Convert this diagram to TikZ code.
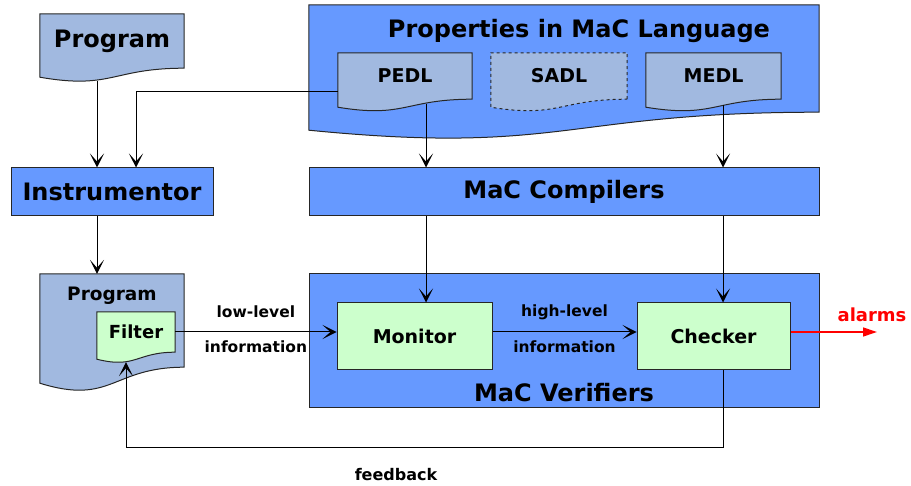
\documentclass[tikz,border=0pt]{standalone}
\usepackage{fontspec}
\setmainfont{DejaVu Sans}
\usepackage{tikz}
\usetikzlibrary{shapes.geometric, arrows.meta, calc, backgrounds}
\definecolor{macblue}{RGB}{102,153,255}
\definecolor{docblue}{RGB}{161,185,224}
\definecolor{mongreen}{RGB}{204,255,204}
\tikzstyle{bigbox} = [rectangle, draw=black!85, line width=1pt, fill=macblue, inner sep=0pt]
\tikzstyle{doc} = [rectangle, inner sep=0pt]
\tikzstyle{docline} = [draw=black!85, line width=1pt, fill=docblue]
\tikzstyle{process} = [rectangle, draw=black!85, line width=1pt, fill=mongreen, inner sep=0pt]
\tikzstyle{arrow} = [line width=1pt, ->, >={Stealth[length=14pt,width=14pt,inset=8pt]}]
\tikzstyle{alarmarrow} = [line width=1.3pt, red, ->, >={Triangle[length=14pt,width=9pt]}]
\tikzstyle{title} = [font=\bfseries\fontsize{24}{28}\selectfont]
\tikzstyle{inner} = [font=\bfseries\fontsize{19}{22}\selectfont]
\tikzstyle{small} = [font=\bfseries\fontsize{15.5}{18}\selectfont]

% documento com borda ondulada: estilo, no, profundidade
\newcommand{\docshape}[3]{%
  \draw[#1] (#2.south east) -- (#2.north east) -- (#2.north west) -- ([yshift=-#3]#2.south west)
    .. controls ($(#2.south)+(0,-2.4*#3)$) and (#2.south) .. (#2.south east) -- cycle;}

\begin{document}
\begin{tikzpicture}[x=1pt, y=-1pt]
    \useasboundingbox (0,0) rectangle (911,486);

    % Nós
    \node (prog) [doc, title, minimum width=144pt, minimum height=54pt] at (112,41) {Program};
    \node (instr) [bigbox, title, minimum width=202pt, minimum height=48pt] at (112,192) {Instrumentor};

    \node (props) [doc, minimum width=510pt, minimum height=107pt] at (564,58.5) {};
    \node (propslbl) [title] at (579,31) {Properties in MaC Language};
    \node (pedl) [doc, inner, minimum width=134pt, minimum height=46pt] at (405,76) {PEDL};
    \node (sadl) [doc, inner, minimum width=136pt, minimum height=46pt] at (559,76) {SADL};
    \node (medl) [doc, inner, minimum width=135pt, minimum height=46pt] at (713.5,76) {MEDL};

    \node (comp) [bigbox, title, minimum width=510pt, minimum height=48pt] at (564,192) {MaC Compilers};

    \node (prog2) [doc, minimum width=144pt, minimum height=93pt] at (112,320.5) {};
    \node (prog2lbl) [font=\bfseries\fontsize{18.5}{22}\selectfont] at (112,296) {Program};
    \node (filter) [doc, inner, font=\bfseries\fontsize{18}{22}\selectfont, minimum width=78pt, minimum height=40pt] at (136,332) {Filter};

    \node (verif) [bigbox, minimum width=510pt, minimum height=134pt] at (564,341) {};
    \node (veriflbl) [title] at (564,393) {MaC Verifiers};
    \node (monitor) [process, inner, minimum width=155pt, minimum height=67pt] at (414.5,336.5) {Monitor};
    \node (checker) [process, inner, minimum width=153pt, minimum height=67pt] at (713.5,336.5) {Checker};

    \coordinate (alarmend) at (877,332);
    \node (alarmlbl) [font=\bfseries\fontsize{18}{22}\selectfont, text=red] at (872,315) {alarms};
    \node (fblbl) [font=\bfseries\fontsize{16}{20}\selectfont] at (396,475) {feedback};

    % Documentos
    \begin{scope}[on background layer]
        \docshape{docline, fill=macblue}{props}{18pt}
        \docshape{docline}{pedl}{8pt}
        \docshape{docline, dashed}{sadl}{8pt}
        \docshape{docline}{medl}{8pt}
        \docshape{docline}{prog}{9pt}
        \docshape{docline}{prog2}{16pt}
        \docshape{docline, fill=mongreen}{filter}{7pt}
    \end{scope}

    % Conexões
    \draw [arrow] ([xshift=-15pt,yshift=-13pt]prog.south) -- ([xshift=-15pt]instr.north);
    \draw [arrow] ([yshift=-16pt]pedl.west) -| ([xshift=24pt]instr.north);
    \draw [arrow] ([xshift=21pt,yshift=-5pt]pedl.south) -- ([xshift=-138pt]comp.north);
    \draw [arrow] ([xshift=9.5pt,yshift=-6pt]medl.south) -- ([xshift=159pt]comp.north);
    \draw [arrow] ([xshift=-15pt]instr.south) -- ([xshift=-15pt]prog2.north);
    \draw [arrow] ([xshift=-138pt]comp.south) -- ([xshift=11.5pt]monitor.north);
    \draw [arrow] ([xshift=159pt]comp.south) -- ([xshift=9.5pt]checker.north);
    \draw [arrow] (filter.east) -- (filter.east -| monitor.west)
        node[small, midway, yshift=20pt] (lowlbl) {low-level}
        node[small, midway, yshift=-15pt] (lowinfo) {information};
    \draw [arrow] ([yshift=4.5pt]monitor.east) -- ([yshift=4.5pt]checker.west)
        node[small, midway, yshift=20pt] (highlbl) {high-level}
        node[small, midway, yshift=-15pt] (highinfo) {information};
    \draw [alarmarrow] ([yshift=4.5pt]checker.east) -- (alarmend);
    \draw [arrow] ([xshift=9.5pt]checker.south) -- ++(0,77) -| ([xshift=-10pt,yshift=-10pt]filter.south);

\end{tikzpicture}
\end{document}
